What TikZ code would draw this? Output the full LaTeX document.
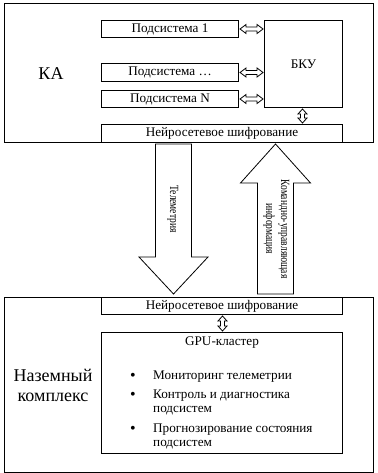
\documentclass[tikz,border=0pt]{standalone}
\usepackage{fontspec}
\setmainfont{Liberation Serif}
\usetikzlibrary{calc}
\tikzset{
  box/.style={draw, line width=1pt, inner sep=0pt, anchor=north west},
  blk/.style={draw, line width=0.8pt, fill=white, line join=miter},
  small/.style={font=\fontsize{13.2}{15}\selectfont},
  bul/.style={font=\fontsize{16}{16}\selectfont},
  rot/.style={font=\fontsize{12.5}{15}\selectfont, rotate=-90, xscale=0.76, align=center},
  big/.style={font=\fontsize{18}{20}\selectfont, align=center},
}
\newcommand\hdblarrow[2]{%
  \draw[blk] let \p1=#1, \p2=#2 in
    (\x1,\y1) -- (\x1+6pt,\y1+4.5pt) -- (\x1+6pt,\y1+2pt) -- (\x2-6pt,\y2+2pt) --
    (\x2-6pt,\y2+4.5pt) -- (\x2,\y2) -- (\x2-6pt,\y2-4.5pt) -- (\x2-6pt,\y2-2pt) --
    (\x1+6pt,\y1-2pt) -- (\x1+6pt,\y1-4.5pt) -- cycle;}
\newcommand\vdblarrow[2]{%
  \draw[blk] let \p1=#1, \p2=#2 in
    (\x1,\y1) -- (\x1+4.5pt,\y1-5pt) -- (\x1+2pt,\y1-5pt) -- (\x2+2pt,\y2+5pt) --
    (\x2+4.5pt,\y2+5pt) -- (\x2,\y2) -- (\x2-4.5pt,\y2+5pt) -- (\x2-2pt,\y2+5pt) --
    (\x1-2pt,\y1-5pt) -- (\x1-4.5pt,\y1-5pt) -- cycle;}
\begin{document}
\begin{tikzpicture}[x=1pt,y=-1pt]
\useasboundingbox (0,0) rectangle (377,473);
% Spacecraft
\node[box, minimum width=369pt, minimum height=139pt] (ka) at (4,3) {};
\node[big] (kalabel) at (51,74) {КА};
\node[box, small, minimum width=137pt, minimum height=17pt] (s1) at (101,20) {Подсистема 1};
\node[box, small, minimum width=137pt, minimum height=18pt] (s2) at (101,63) {Подсистема …};
\node[box, small, minimum width=137pt, minimum height=17pt] (s3) at (101,90) {Подсистема N};
\node[box, small, minimum width=78pt, minimum height=87pt] (bku) at (264,20) {БКУ};
\node[box, small, minimum width=241pt, minimum height=18pt] (enc1) at (101,124) {Нейросетевое шифрование};
\hdblarrow{($(s1.east)+(1,0)$)}{($(bku.west|-s1.east)+(-1,0)$)}
\hdblarrow{($(s2.east)+(1,0)$)}{($(bku.west|-s2.east)+(-1,0)$)}
\hdblarrow{($(s3.east)+(1,0)$)}{($(bku.west|-s3.east)+(-1,0)$)}
\vdblarrow{($(bku.south)+(-1,1)$)}{($(enc1.north-|bku.south)+(-1,-1)$)}
% Ground
\node[box, minimum width=369pt, minimum height=175pt] (gnd) at (4,297) {};
\node[big] (gndlabel) at (53,385) {Наземный\\комплекс};
\node[box, small, minimum width=241pt, minimum height=17pt] (enc2) at (101,297) {Нейросетевое шифрование};
\node[box, minimum width=241pt, minimum height=121pt] (gpu) at (101,332) {};
\node[small] (gputitle) at (222,343) {GPU-кластер};
\vdblarrow{($(enc2.south)+(0.5,1)$)}{($(gpu.north)+(0.5,-1)$)}
\node[bul] (b1) at (133,377) {•};
\node[bul] (b2) at (133,396) {•};
\node[bul] (b3) at (133,430) {•};
\node[small, anchor=west, inner sep=0pt] (l1) at (153,377) {Мониторинг телеметрии};
\node[small, anchor=west, inner sep=0pt] (l2) at (153,396) {Контроль и диагностика};
\node[small, anchor=west, inner sep=0pt] (l3) at (153,411) {подсистем};
\node[small, anchor=west, inner sep=0pt] (l4) at (153,430) {Прогнозирование состояния};
\node[small, anchor=west, inner sep=0pt] (l5) at (153,445) {подсистем};
% Big arrows
\draw[blk] let \p1=($(enc1.south)+(-48.5,1)$), \p2=($(enc2.north)+(-48.5,-3)$) in
  (\x1-18pt,\y1) -- (\x1+18pt,\y1) -- (\x1+18pt,\y2+37pt) -- (\x1+34.5pt,\y2+37pt) --
  (\x2,\y2) -- (\x1-34.5pt,\y2+37pt) -- (\x1-18pt,\y2+37pt) -- cycle;
\draw[blk] let \p1=($(enc1.south)+(53.5,1)$), \p2=($(enc2.north)+(53.5,-3)$) in
  (\x1,\y1) -- (\x1+35pt,\y1-39pt) -- (\x1+18pt,\y1-39pt) -- (\x2+18pt,\y2) --
  (\x2-18pt,\y2) -- (\x1-18pt,\y1-39pt) -- (\x1-35pt,\y1-39pt) -- cycle;
\node[rot] (tel) at (173,209) {Телеметрия};
\node[rot] (cmd) at (276.5,229) {Командно-управляющая\\информация};
\end{tikzpicture}
\end{document}
